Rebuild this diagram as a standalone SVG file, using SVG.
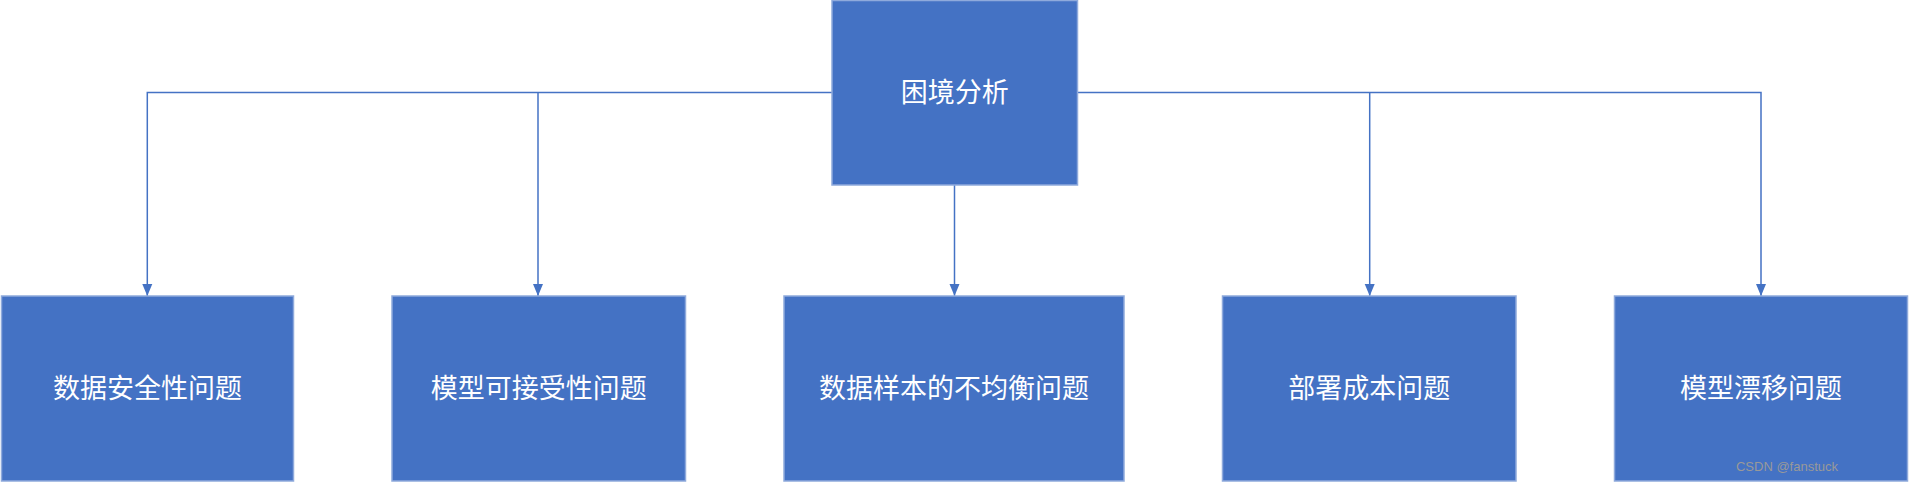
<svg xmlns="http://www.w3.org/2000/svg" width="1909" height="482" viewBox="0 0 1909 482">
<defs>
<style>
.box{fill:#4472C4;stroke:#8FAADC;stroke-width:1.5}
.t{fill:#fff;font-family:"Liberation Sans","Noto Sans CJK SC",sans-serif;font-size:27px;text-anchor:middle;dominant-baseline:central}
.c{stroke:#4472C4;stroke-width:1.5;fill:none}
</style>
<marker id="a" markerWidth="10" markerHeight="10" refX="5" refY="9" orient="auto-start-reverse" markerUnits="userSpaceOnUse" viewBox="0 0 10 10"><path d="M0,0 L10,0 L5,10 z" fill="#4472C4" transform="rotate(0)"/></marker>
</defs>
<rect width="1909" height="482" fill="#fff"/>
<g id="connectors">
<path class="c" d="M832,92.5 H147.3 V296" marker-end="url(#ah)"/>
<path class="c" d="M538,92.5 V296"/>
<path class="c" d="M954.5,185 V296"/>
<path class="c" d="M1077.5,92.5 H1761 V296"/>
<path class="c" d="M1369.7,92.5 V296"/>
<g fill="#4472C4">
<path d="M142.3,284 L152.3,284 L147.3,296 z"/>
<path d="M533,284 L543,284 L538,296 z"/>
<path d="M949.5,284 L959.5,284 L954.5,296 z"/>
<path d="M1364.7,284 L1374.7,284 L1369.7,296 z"/>
<path d="M1756,284 L1766,284 L1761,296 z"/>
</g>
</g>
<g id="n0"><rect class="box" x="832" y="0.5" width="245.5" height="184.5"/><text class="t" x="954.7" y="93">困境分析</text></g>
<g id="n1"><rect class="box" x="1.5" y="296" width="292" height="185"/><text class="t" x="147.5" y="389">数据安全性问题</text></g>
<g id="n2"><rect class="box" x="392" y="296" width="293.5" height="185"/><text class="t" x="538.7" y="389">模型可接受性问题</text></g>
<g id="n3"><rect class="box" x="784" y="296" width="340" height="185"/><text class="t" x="954" y="389">数据样本的不均衡问题</text></g>
<g id="n4"><rect class="box" x="1222.5" y="296" width="293.5" height="185"/><text class="t" x="1369.2" y="389">部署成本问题</text></g>
<g id="n5"><rect class="box" x="1614.5" y="296" width="293" height="185"/><text class="t" x="1761" y="389">模型漂移问题</text></g>
<text x="1787" y="466" font-family="Liberation Sans,sans-serif" font-size="13" fill="#999" text-anchor="middle" dominant-baseline="central">CSDN @fanstuck</text>
</svg>
